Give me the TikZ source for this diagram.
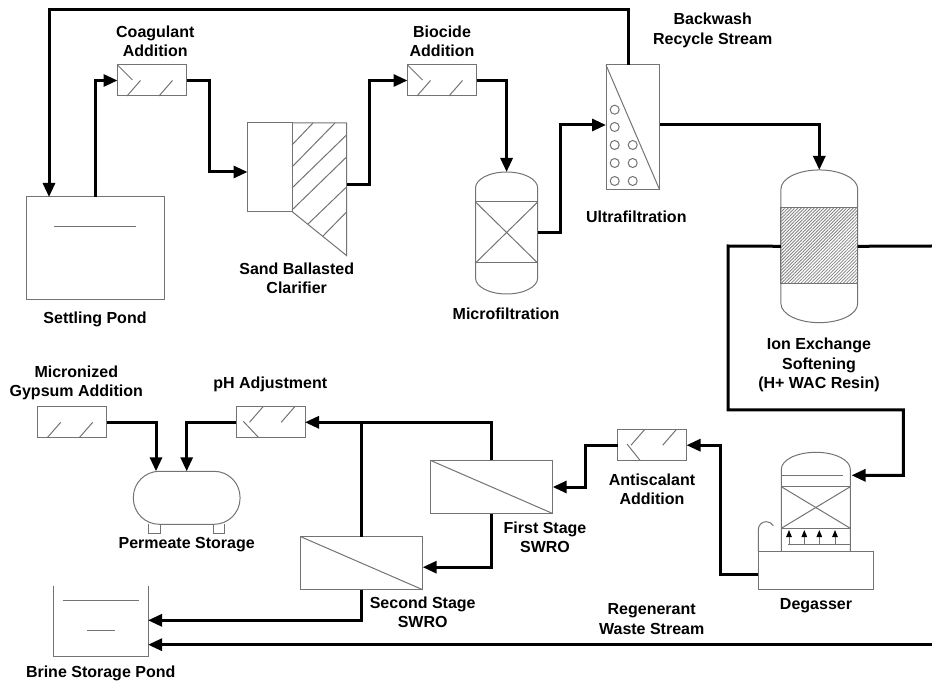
\documentclass[tikz,border=0pt]{standalone}
\usepackage{fontspec}
\setmainfont{Liberation Sans}
\usetikzlibrary{arrows.meta,patterns.meta}
\newcommand{\vessel}[3]{%
  \draw[wire] ([yshift=-#3pt]#1.north west) arc[start angle=180,end angle=0,x radius=#2pt,y radius=#3pt]
    -- ([yshift=#3pt]#1.south east) arc[start angle=0,end angle=-180,x radius=#2pt,y radius=#3pt] -- cycle;
}
\newcommand{\slashup}[1]{%
  \foreach \dx in {9.5,41.5} {
    \draw[wire] ([xshift=\dx pt]#1.south west) -- ++(13.5,-15.5);
  }
}
\newcommand{\slashdown}[1]{%
  \foreach \dx in {27,58.7} {
    \draw[wire] ([xshift=\dx pt]#1.north west) -- ++(-13.5,15.5);
  }
}
\begin{document}
\begin{tikzpicture}[
  x=1pt, y=-1pt,
  wire/.style={draw=black!55, line width=1pt},
  pipe/.style={draw=black, line width=3pt},
  flow/.style={pipe, -{Triangle[length=14pt,width=12pt]}},
  unit/.style={wire, inner sep=0pt, outer sep=0pt},
  dosing/.style={unit, minimum width=69pt, minimum height=31pt},
  membrane/.style={unit, minimum width=122pt, minimum height=53pt},
  shell/.style={inner sep=0pt, outer sep=0pt},
  lab/.style={font=\fontsize{16}{19.3}\selectfont\bfseries, align=center}
]
  \useasboundingbox (0,0) rectangle (932,684);

  % pretreatment
  \node[unit, minimum width=138pt, minimum height=103pt] (pond) at (95,248.5) {};
  \draw[wire] (54,227) -- (136,227);
  \node[dosing] (coag) at (152,80.5) {};
  \draw[wire] (coag.north west) -- ++(15,15);
  \slashup{coag}
  \node[unit, minimum width=44.5pt, minimum height=88.5pt] (clar) at (269.75,167.25) {};
  \draw[wire] (clar.north east) -- (346.5,123) -- (346.5,255.5) -- (clar.south east);
  \foreach \xa/\ya/\xb/\yb in {292/145/313/123, 292/167/335/123, 292/188/346.5/135,
                               292/210/346.5/157, 308/224/346.5/187, 323/236/346.5/212} {
    \draw[wire] (\xa,\ya) -- (\xb,\yb);
  }
  \node[dosing] (bioc) at (442,80.5) {};
  \draw[wire] (bioc.north west) -- ++(15,15);
  \slashup{bioc}

  % filtration
  \node[shell, minimum width=62.2pt, minimum height=122pt] (micro) at (506.6,233) {};
  \vessel{micro}{31.1}{16}
  \node[unit, minimum width=62.2pt, minimum height=61pt] (microbed) at (506.6,232.5) {};
  \draw[wire] (microbed.north west) -- (microbed.south east);
  \draw[wire] (microbed.south west) -- (microbed.north east);
  \node[unit, minimum width=53.7pt, minimum height=125pt] (uf) at (632.85,127.5) {};
  \draw[wire] (uf.north west) -- (uf.south east);
  \foreach \x/\y in {614.7/109.7,614.7/127,614.7/145,614.7/163,614.7/181,
                     632.7/145,632.7/163,632.7/181} {
    \draw[wire] (\x,\y) circle[radius=4.5pt];
  }

  % softening
  \node[shell, minimum width=76.7pt, minimum height=152.7pt] (ion) at (819.3,246.3) {};
  \vessel{ion}{38.35}{19}
  \node[unit, minimum width=76.7pt, minimum height=76pt,
        pattern={Lines[angle=45,distance=2.3pt,line width=0.8pt]}, pattern color=black!50] (ionbed) at (819.3,246) {};

  % degasser
  \node[shell, minimum width=69pt, minimum height=99.4pt] (degas) at (815.8,502) {};
  \draw[wire] (degas.south west) -- ([yshift=-17pt]degas.north west)
    arc[start angle=180,end angle=0,x radius=34.5pt,y radius=17pt] -- (degas.south east);
  \draw[wire] (781.3,475.3) -- (843,475.3);
  \node[unit, minimum width=69pt, minimum height=41.6pt] (degbed) at (815.8,507.5) {};
  \draw[wire] (degbed.north west) -- (degbed.south east);
  \draw[wire] (degbed.south west) -- (degbed.north east);
  \draw[wire] (788,544.3) -- (850.3,544.3);
  \foreach \x in {789,804.3,819.3,835} {
    \draw[wire, -{Triangle[length=7pt,width=5.5pt,color=black]}] (\x,544.3) -- (\x,530);
  }
  \node[unit, minimum width=115pt, minimum height=38.3pt] (degbase) at (815.8,570.8) {};
  \draw[wire] (degbase.north west) -- ++(0,-22) arc[start angle=180,end angle=30,radius=8pt];

  % membranes and storage
  \node[dosing] (anti) at (652,445.2) {};
  \slashdown{anti}
  \draw[wire] (627,444) -- (640.3,460.7);
  \node[membrane] (first) at (491.7,487) {};
  \draw[wire] (first.north west) -- (first.south east);
  \node[membrane] (second) at (361.7,563.2) {};
  \draw[wire] (second.north west) -- (second.south east);
  \node[dosing] (phbox) at (270.5,422.3) {};
  \slashdown{phbox}
  \draw[wire] (243.3,421.3) -- (258.7,437.7);
  \node[dosing] (gyps) at (72.2,422.3) {};
  \slashup{gyps}
  \node[unit, rounded corners=26pt, minimum width=106.7pt, minimum height=53pt] (perm) at (186.7,497.8) {};
  \foreach \x in {154.4,218.7} {
    \draw[wire] (\x-5.6,524.3) -- (\x-5.6,533.3) -- (\x+5.6,533.3) -- (\x+5.6,524.3);
  }
  \node[shell, minimum width=94.7pt, minimum height=70.6pt] (brine) at (100.7,621) {};
  \draw[wire] (brine.north west) -- (brine.south west) -- (brine.south east) -- (brine.north east);
  \draw[wire] (62.7,600) -- (138.7,600);
  \draw[wire] (86.7,630.3) -- (115.3,630.3);

  % free ends and bends
  \coordinate (recyc) at (49,9.5);
  \coordinate (clarin) at (209,172);
  \coordinate (clarout) at (346.5,185);
  \coordinate (ionleft) at (728,246);
  \coordinate (ionright) at (932,246);
  \coordinate (degtop) at (903.3,410);
  \coordinate (degin) at (851.5,475.3);
  \coordinate (wasteend) at (932,644.7);
  \coordinate (biocbend) at (369,120);
  \coordinate (ufbend) at (560.7,180);
  \coordinate (antibend) at (720.3,500);
  \coordinate (firstbend) at (585.3,470);
  \coordinate (brinein) at (148,620.3);

  % connectors
  \draw[flow] (phbox.west) -| (perm.north);
  \draw[flow] ([xshift=-4pt]uf.north) -- ([xshift=-4pt]uf.north |- recyc) -- (recyc) -- (recyc |- pond.north);
  \draw[flow] (pond.north) |- (coag.west);
  \draw[flow] (coag.east) -| (clarin) -- (clarin -| clar.west);
  \draw[flow] (clarout) -| (biocbend) |- (bioc.west);
  \draw[flow] (bioc.east) -| (micro.north);
  \draw[flow] (micro.east) -| (ufbend) |- ([yshift=2.5pt]uf.west);
  \draw[flow] ([yshift=3pt]uf.east) -| (ion.north);
  \draw[pipe] (ion.east) -- (ionright);
  \draw[flow] (ion.west) -- (ionleft) |- (degtop) |- (degin);
  \draw[flow] ([yshift=-3.9pt]degbase.west) -| (antibend) |- (anti.east);
  \draw[flow] (anti.west) -| (firstbend) |- (first.east);
  \draw[flow] (first.south) |- ([yshift=-4pt]second.east);
  \draw[flow] (first.north) |- (phbox.east);
  \draw[pipe] (second.north) -- (second.north |- phbox.east);
  \draw[flow] (second.south) |- (brinein);
  \draw[flow] (wasteend) -- (wasteend -| brine.east);
  \draw[flow] (gyps.east) -| ([xshift=-30.7pt]perm.north);

  % labels
  \node[lab] (labcoag) at (155.3,41.5) {Coagulant\\Addition};
  \node[lab] (labbioc) at (442,41.5) {Biocide\\Addition};
  \node[lab] (labback) at (712.7,30.5) {Backwash\\Recycle Stream};
  \node[lab] (labclar) at (296.7,278) {Sand Ballasted\\Clarifier};
  \node[lab] (labpond) at (95,319) {Settling Pond};
  \node[lab] (labmicro) at (506,314) {Microfiltration};
  \node[lab] (labuf) at (636.3,217) {Ultrafiltration};
  \node[lab] (labion) at (819,365) {Ion Exchange\\Softening\\(H+ WAC Resin)};
  \node[lab] (labanti) at (652,489) {Antiscalant\\Addition};
  \node[lab] (labfirst) at (545,537) {First Stage\\SWRO};
  \node[lab] (labsecond) at (422.7,612) {Second Stage\\SWRO};
  \node[lab] (labregen) at (651.7,619) {Regenerant\\Waste Stream};
  \node[lab] (labdegas) at (816,606) {Degasser};
  \node[lab] (labbrine) at (100.7,673) {Brine Storage Pond};
  \node[lab] (labperm) at (186.7,544.7) {Permeate Storage};
  \node[lab] (labph) at (270.3,384.7) {pH Adjustment};
  \node[lab] (labgyps) at (76.3,383) {Micronized\\Gypsum Addition};
\end{tikzpicture}
\end{document}
